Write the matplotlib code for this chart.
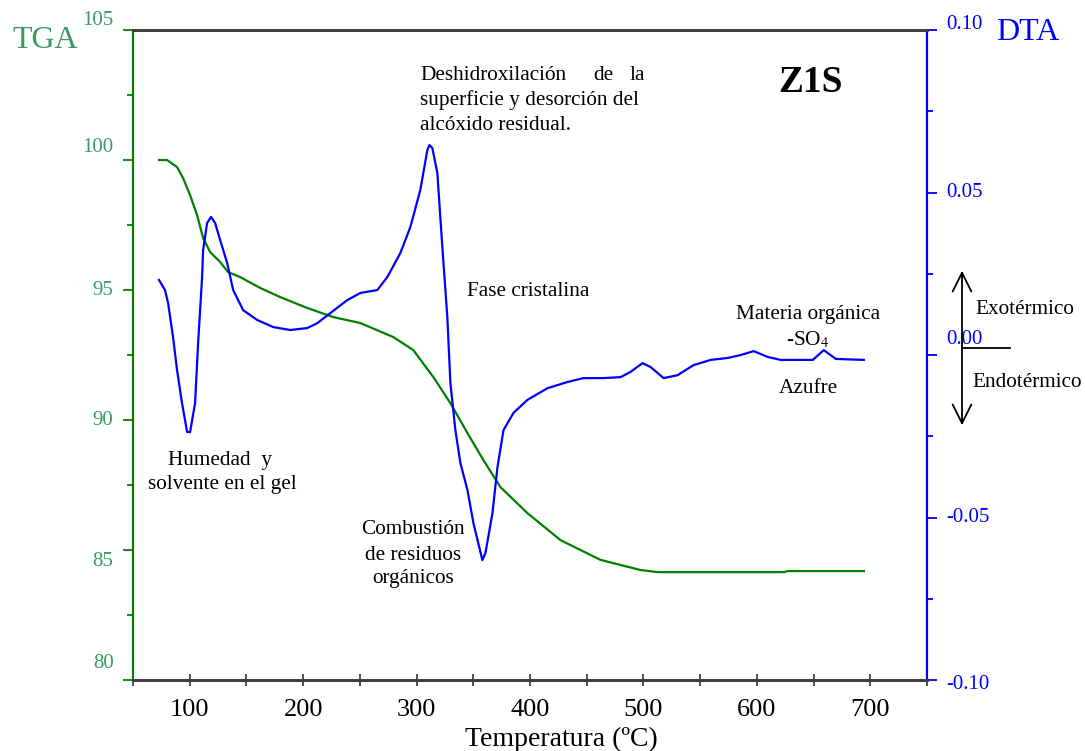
import matplotlib
matplotlib.use("Agg")
import matplotlib.pyplot as plt
import numpy as np

plt.rcParams['font.family'] = ['Liberation Serif', 'DejaVu Serif']
plt.rcParams['mathtext.fontset'] = 'stix'

# TGA curve (weight %) vs temperature (C)
tga_t = [72.9, 80.0, 88.8, 94.1, 100.3, 106.5, 111.8, 118.0, 126.8, 133.8, 144.4,
         162.1, 179.7, 203.6, 226.5, 250.4, 279.5, 297.1, 314.8, 329.8, 344.8,
         358.9, 373.9, 397.7, 426.9, 462.2, 497.5, 512.5, 623.7, 627.2, 694.3]
tga_w = [100.0, 100.0, 99.73, 99.31, 98.65, 97.88, 97.0, 96.46, 96.08, 95.69, 95.5,
         95.08, 94.73, 94.31, 93.96, 93.73, 93.19, 92.69, 91.65, 90.65, 89.5,
         88.46, 87.42, 86.42, 85.38, 84.62, 84.23, 84.15, 84.15, 84.19, 84.19]

# DTA curve vs temperature (C)
dta_t = [72.9, 78.2, 80.9, 85.3, 88.8, 93.2, 97.7, 100.3, 104.7, 107.4, 110.9,
         111.8, 115.3, 118.8, 122.4, 126.8, 133.0, 138.3, 147.1, 159.4, 173.6,
         188.6, 203.6, 212.4, 223.9, 238.9, 250.4, 265.4, 274.2, 285.7, 294.5,
         303.3, 309.5, 311.3, 313.9, 318.3, 322.7, 327.1, 329.8, 334.2, 338.6,
         344.8, 350.1, 358.0, 360.7, 366.9, 371.3, 376.6, 385.4, 397.7, 415.4,
         433.0, 447.2, 464.8, 479.8, 488.6, 499.2, 506.3, 517.8, 530.1, 544.2,
         559.3, 574.3, 585.7, 597.2, 609.6, 621.0, 649.3, 659.0, 669.6, 694.3]
dta_v = [0.0231, 0.0200, 0.0160, 0.0055, -0.0046, -0.0148, -0.0237, -0.0237, -0.0148, 0.0037, 0.0240,
         0.0323, 0.0406, 0.0425, 0.0406, 0.0354, 0.0283, 0.0200, 0.0138, 0.0108, 0.0086,
         0.0077, 0.0083, 0.0098, 0.0129, 0.0169, 0.0191, 0.0200, 0.0240, 0.0314, 0.0394,
         0.0508, 0.0631, 0.0646, 0.0637, 0.0560, 0.0332, 0.0117, -0.0086, -0.0231, -0.0332,
         -0.0415, -0.0517, -0.0631, -0.0609, -0.0486, -0.0345, -0.0231, -0.0178, -0.0138, -0.0102,
         -0.0083, -0.0071, -0.0071, -0.0068, -0.0052, -0.0025, -0.0037, -0.0071, -0.0062, -0.0031,
         -0.0015, -0.0009, 0.0000, 0.0012, -0.0006, -0.0015, -0.0015, 0.0015, -0.0012, -0.0015]

x_ticks = np.arange(50, 751, 50)
x_labels = ['' if t % 100 else str(t) for t in x_ticks]
tga_ticks = [80, 85, 90, 95, 100, 105]
dta_ticks = [-0.10, -0.05, 0.00, 0.05, 0.10]
# small vertical nudges (points) of the axis labels, as in the original
tga_nudge = [12, -8, 0, 0, 9, 7]
dta_nudge = [-3, 0, 11, 0, 4]

GREEN = '#008000'
LGREEN = '#3a9a62'
BLUE = '#0000ff'
GREY = '#404040'
FS = 15.3

fig = plt.figure(figsize=(10.85, 7.51), dpi=100)
ax = fig.add_axes([0.1226, 0.0945, 0.7318, 0.8655])
ax2 = ax.twinx()

ax.plot(tga_t, tga_w, color=GREEN, lw=1.6)
ax2.plot(dta_t, dta_v, color=BLUE, lw=1.6)

ax.set_xlim(50, 750)
ax.set_ylim(80, 105)
ax2.set_ylim(-0.10, 0.10)

ax.set_xticks(x_ticks)
ax.set_xticklabels(x_labels, fontsize=19)
ax.tick_params(axis='x', direction='inout', length=9, width=1.3, color=GREY, pad=9)

ax.set_yticks(tga_ticks)
ax.set_yticks([82.5, 87.5, 92.5, 97.5, 102.5], minor=True)
ax.set_yticklabels([])
ax.tick_params(axis='y', which='major', length=7, width=1.3, color=GREEN)
ax.tick_params(axis='y', which='minor', length=4, width=1.3, color=GREEN)

ax2.set_yticks(dta_ticks)
ax2.set_yticks([-0.075, -0.025, 0.025, 0.075], minor=True)
ax2.set_yticklabels([])
ax2.tick_params(axis='y', which='major', length=7, width=1.3, color=BLUE)
ax2.tick_params(axis='y', which='minor', length=4, width=1.3, color=BLUE)

for a in (ax, ax2):
    a.spines['top'].set_color(GREY)
    a.spines['bottom'].set_color(GREY)
    a.spines['top'].set_linewidth(2)
    a.spines['bottom'].set_linewidth(2)
    a.spines['left'].set_color(GREEN)
    a.spines['right'].set_color(BLUE)
    a.spines['left'].set_linewidth(1.5)
    a.spines['right'].set_linewidth(1.5)

for v, dy in zip(tga_ticks, tga_nudge):
    ax.annotate(str(v), xy=(0, v), xycoords=('axes fraction', 'data'),
                xytext=(-14, dy), textcoords='offset points',
                ha='right', va='center', fontsize=15, color=LGREEN)
for v, dy in zip(dta_ticks, dta_nudge):
    ax2.annotate('%.2f' % v, xy=(1, v), xycoords=('axes fraction', 'data'),
                 xytext=(14, dy), textcoords='offset points',
                 ha='left', va='center', fontsize=15, color=BLUE)

ax.set_xlabel('Temperatura (ºC)', fontsize=20)
ax.xaxis.set_label_coords(0.54, -0.072)

def ft(x, y, s, **kw):
    fig.text(x / 1085, 1 - y / 751, s, **kw)

ft(45, 40, 'TGA', fontsize=23, color=LGREEN, ha='center', va='center')
ft(1028, 33, 'DTA', fontsize=23, color=BLUE, ha='center', va='center')
ft(811, 82, 'Z1S', fontsize=27, fontweight='bold', ha='center', va='center')

ft(420, 75, 'Deshidroxilación', fontsize=FS, ha='left', va='center')
ft(603, 75, 'de', fontsize=FS, ha='center', va='center')
ft(645, 75, 'la', fontsize=FS, ha='right', va='center')
ft(420, 100, 'superficie y desorción del', fontsize=FS, ha='left', va='center')
ft(420, 125, 'alcóxido residual.', fontsize=FS, ha='left', va='center')

ft(528, 291, 'Fase cristalina', fontsize=FS, ha='center', va='center')
ft(220, 460, 'Humedad  y', fontsize=FS, ha='center', va='center')
ft(222, 484, 'solvente en el gel', fontsize=FS, ha='center', va='center')
ft(413, 530, 'Combustión', fontsize=FS, ha='center', va='center')
ft(413, 555, 'de residuos', fontsize=FS, ha='center', va='center')
ft(413, 579, 'orgánicos', fontsize=FS, ha='center', va='center')
ft(808, 314, 'Materia orgánica', fontsize=FS, ha='center', va='center')
ft(808, 340, '-SO$_4$', fontsize=FS, ha='center', va='center')
ft(808, 388, 'Azufre', fontsize=FS, ha='center', va='center')
ft(975, 310, 'Exotérmico', fontsize=FS, ha='left', va='center')
ft(972, 382, 'Endotérmico', fontsize=FS, ha='left', va='center')

# exo / endo arrow
fig.add_artist(matplotlib.patches.FancyArrowPatch(
    (962 / 1085, 1 - 428 / 751), (962 / 1085, 1 - 268 / 751),
    transform=fig.transFigure, arrowstyle='<->,head_length=9,head_width=4.5',
    color='black', lw=1.3, mutation_scale=1.5))
fig.add_artist(matplotlib.lines.Line2D([962 / 1085, 1010 / 1085],
                                       [1 - 348 / 751, 1 - 348 / 751],
                                       transform=fig.transFigure, color='black', lw=1.3))

fig.savefig('out.png', dpi=100)
